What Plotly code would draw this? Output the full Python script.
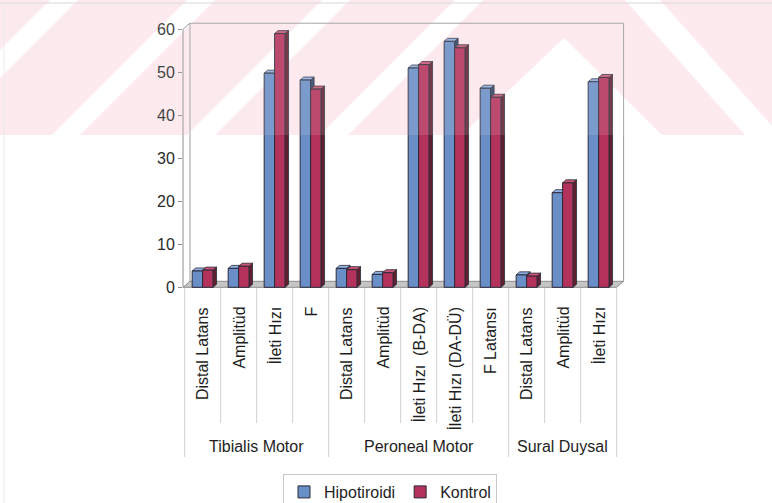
import plotly.graph_objects as go

# ---- data -------------------------------------------------------------
categories = [
    "Distal Latans", "Amplitüd", "İleti Hızı", "F",
    "Distal Latans", "Amplitüd", "İleti Hızı\u00a0 (B-DA)", "İleti Hızı (DA-DÜ)", "F Latansı",
    "Distal Latans", "Amplitüd", "İleti Hızı",
]
groups = ["Tibialis Motor", "Peroneal Motor", "Sural Duysal"]
group_sizes = [4, 5, 3]
hipotiroidi = [3.8, 4.4, 49.8, 48.2, 4.4, 3.0, 51.0, 57.2, 46.3, 2.9, 22.0, 47.8]
kontrol = [4.0, 4.9, 59.0, 46.1, 4.1, 3.4, 51.8, 55.7, 44.2, 2.6, 24.3, 48.8]
y_ticks = [0, 10, 20, 30, 40, 50, 60]

# ---- geometry ---------------------------------------------------------
W, H = 772, 503
ML, MR, MT, MB = 183, 148, 23, 213
PW = W - ML - MR
PH = H - MT - MB
CAT_PX = 36.0
X0 = -0.5 - 1.6 / CAT_PX
X1 = X0 + PW / CAT_PX
ZERO_PX = 287.3
PX_PER_UNIT = 4.3
Y0 = -((MT + PH) - ZERO_PX) / PX_PER_UNIT
Y1 = Y0 + PH / PX_PER_UNIT

UX = (X1 - X0) / PW          # data units per pixel (x)
UY = (Y1 - Y0) / PH          # data units per pixel (y)
BW = 0.29                    # bar width in category units
BDX, BDY = 3.5 * UX, 3.0 * UY    # bar depth
WDX, WDY = 7.0 * UX, 6.0 * UY    # wall/floor depth

FONT = "Liberation Sans, Arial, sans-serif"
TXT = "#1e1e1e"

def paper_px(px, py):
    return (px - ML) / PW, (MT + PH - py) / PH

def paper_data(x, y):
    return (x - X0) / (X1 - X0), (y - Y0) / (Y1 - Y0)

def path(pts):
    return "M " + " L ".join(f"{x:.5f},{y:.5f}" for x, y in pts) + " Z"

def open_path(pts):
    return "M " + " L ".join(f"{x:.5f},{y:.5f}" for x, y in pts)

shapes = []

# ---- faint pink background band ----------------------------------------
def px_poly(pts, color):
    shapes.append(dict(type="path", xref="paper", yref="paper", layer="below",
                       path=path([paper_px(*p) for p in pts]),
                       fillcolor=color, line=dict(width=0)))

px_poly([(0, 0), (W, 0), (W, 135), (0, 135)], "#fde8ec")
for b in (-85, 52, 187, 320):
    px_poly([(b, 135), (b + 28, 135), (b + 163, 0), (b + 135, 0)], "white")
px_poly([(462, 135), (564, 38), (662, 135)], "white")
px_poly([(745, 135), (780, 135), (660, 0), (625, 0)], "white")

# page frame lines
shapes.append(dict(type="line", xref="paper", yref="paper", layer="below",
                   x0=paper_px(0, 3)[0], x1=paper_px(W, 3)[0],
                   y0=paper_px(0, 3)[1], y1=paper_px(W, 3)[1],
                   line=dict(color="#d4d4d4", width=1)))
shapes.append(dict(type="line", xref="paper", yref="paper", layer="below",
                   x0=paper_px(4, 3)[0], x1=paper_px(4, H)[0],
                   y0=paper_px(4, 3)[1], y1=paper_px(4, H)[1],
                   line=dict(color="#e8e8e8", width=1)))

# ---- floor and back wall ----------------------------------------------
xr_end = len(categories) - 0.5
floor = [(X0, 0), (xr_end, 0), (xr_end + WDX, WDY), (X0 + WDX, WDY)]
shapes.append(dict(type="path", xref="paper", yref="paper", layer="below",
                   path=path([paper_data(*p) for p in floor]),
                   fillcolor="#c6c6c6", line=dict(color="#8c8c8c", width=1)))
wall = [(X0 + WDX, WDY), (X0 + WDX, Y1 - 0.05), (xr_end + WDX, Y1 - 0.05), (xr_end + WDX, WDY)]
shapes.append(dict(type="path", xref="paper", yref="paper", layer="below",
                   path=open_path([paper_data(*p) for p in wall]),
                   line=dict(color="#9a9a9a", width=1)))
# front value axis with its top corner
axis = [(X0, 0), (X0, 60), (X0 + WDX, Y1 - 0.05)]
shapes.append(dict(type="path", xref="paper", yref="paper", layer="below",
                   path=open_path([paper_data(*p) for p in axis]),
                   line=dict(color="#8c8c8c", width=1)))

# ---- 3D faces of the bars ---------------------------------------------
EDGE = "#2a2a38"
def bar_faces(values, offset, side_col, top_col):
    sides, tops = [], []
    for i, v in enumerate(values):
        xl = i + offset
        xr = xl + BW
        sides.append(dict(type="path", xref="x", yref="y", layer="below",
                          path=path([(xr, 0), (xr, v), (xr + BDX, v + BDY), (xr + BDX, BDY)]),
                          fillcolor=side_col, line=dict(color=EDGE, width=0.8)))
        tops.append(dict(type="path", xref="x", yref="y", layer="below",
                         path=path([(xl, v), (xr, v), (xr + BDX, v + BDY), (xl + BDX, v + BDY)]),
                         fillcolor=top_col, line=dict(color=EDGE, width=0.8)))
    return sides + tops

shapes += bar_faces(hipotiroidi, -BW, "#34466c", "#8eb0e0")
shapes += bar_faces(kontrol, 0.0, "#62202f", "#cc5576")

# ---- category dividers --------------------------------------------------
bounds = [0]
for n in group_sizes:
    bounds.append(bounds[-1] + n)
y_axis_px = ZERO_PX + 1
for k in range(len(categories) + 1):
    bottom_px = 457 if k in bounds else 423
    xp = paper_data(k - 0.5, 0)[0]
    shapes.append(dict(type="line", xref="paper", yref="paper", layer="below",
                       x0=xp, x1=xp, y0=paper_px(0, y_axis_px)[1], y1=paper_px(0, bottom_px)[1],
                       line=dict(color="#d2d2d2", width=1)))

# ---- labels ------------------------------------------------------------
annotations = []
for i, c in enumerate(categories):
    annotations.append(dict(x=i, xref="x", y=paper_px(0, 305)[1], yref="paper",
                            text=c, textangle=-90, showarrow=False,
                            xanchor="center", yanchor="top",
                            font=dict(family=FONT, size=16, color=TXT)))
for g, a, b in zip(groups, bounds[:-1], bounds[1:]):
    annotations.append(dict(x=(a + b - 1) / 2, xref="x", y=paper_px(0, 446)[1], yref="paper",
                            text=g, showarrow=False, xanchor="center", yanchor="middle",
                            font=dict(family=FONT, size=16, color=TXT)))

# light overlay over the upper band
shapes.append(dict(type="rect", xref="paper", yref="paper", layer="above",
                   x0=paper_px(0, 0)[0], x1=paper_px(W, 0)[0],
                   y0=paper_px(0, 0)[1], y1=paper_px(0, 135)[1],
                   fillcolor="white", opacity=0.12, line=dict(width=0)))

# ---- figure ------------------------------------------------------------
x = list(range(len(categories)))
fig = go.Figure()
fig.add_trace(go.Bar(x=x, y=hipotiroidi, name="Hipotiroidi", width=BW, offset=-BW,
                     marker=dict(color="#6a8ec6", line=dict(color=EDGE, width=1))))
fig.add_trace(go.Bar(x=x, y=kontrol, name="Kontrol", width=BW, offset=0,
                     marker=dict(color="#b3325c", line=dict(color=EDGE, width=1))))

lx, ly = paper_px(390, 474)
fig.update_layout(
    width=W, height=H,
    margin=dict(l=ML, r=MR, t=MT, b=MB, autoexpand=False),
    paper_bgcolor="white", plot_bgcolor="rgba(0,0,0,0)",
    barmode="overlay",
    font=dict(family=FONT, size=16, color=TXT),
    xaxis=dict(range=[X0, X1], showticklabels=False, showgrid=False,
               zeroline=False, showline=False, ticks=""),
    yaxis=dict(range=[Y0, Y1], tickvals=y_ticks, showgrid=False, zeroline=False,
               showline=False, ticks="outside", ticklen=4, tickcolor="#8c8c8c",
               tickfont=dict(family=FONT, size=16, color="#2a2a2a")),
    legend=dict(orientation="h", x=lx, xanchor="center", y=ly, yanchor="top",
                bgcolor="white", bordercolor="#c8c8c8", borderwidth=1,
                font=dict(family=FONT, size=16, color=TXT), itemwidth=30),
    shapes=shapes,
    annotations=annotations,
    showlegend=True,
)

fig.write_html("out.html")
